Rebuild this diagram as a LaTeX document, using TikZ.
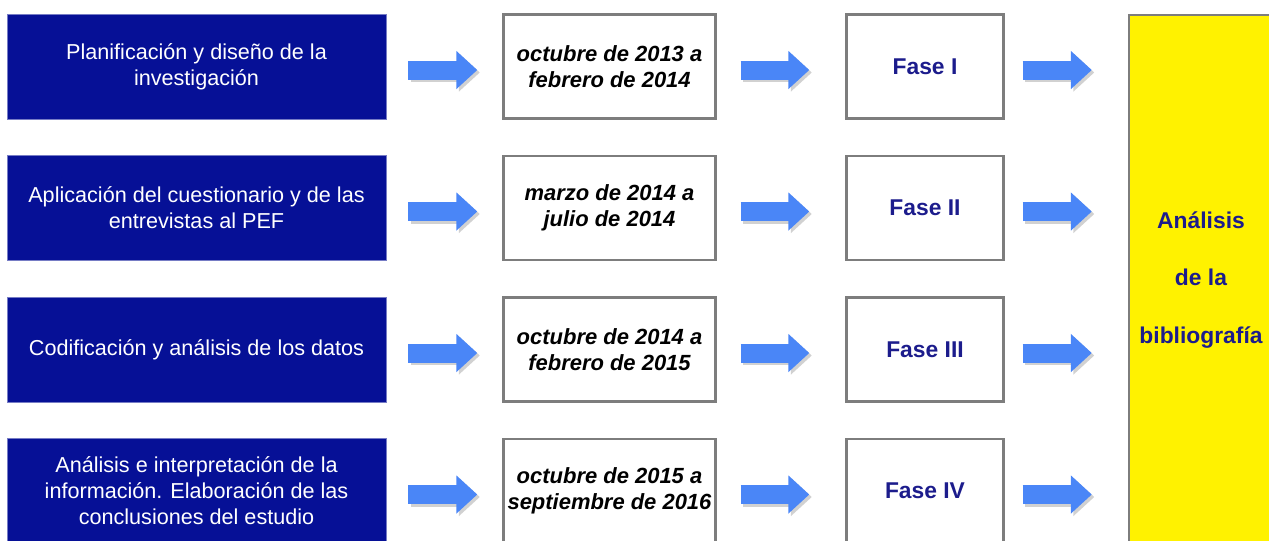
\documentclass[tikz,border=0pt]{standalone}
\usepackage{fontspec}
\setmainfont{Liberation Sans}
\usetikzlibrary{arrows.meta}
\definecolor{plancolor}{RGB}{6,16,150}
\definecolor{arrowblue}{RGB}{74,134,247}
\definecolor{fasecolor}{RGB}{28,28,140}
\definecolor{bordergray}{RGB}{125,125,125}
\begin{document}
\begin{tikzpicture} [
   x=0.02cm, y=-0.02cm,
   plan/.style={rectangle, fill=plancolor, draw=plancolor!55!white, line width=0.5pt,
      minimum width=7.58cm, minimum height=2.1cm, inner sep=0pt, align=center,
      text=white, font=\fontsize{12.3}{14.8}\selectfont},
   date/.style={rectangle, draw=bordergray, line width=1.4pt, minimum width=4.24cm,
      minimum height=2.08cm, inner sep=0pt, align=center,
      font=\fontsize{12.5}{14.8}\selectfont\bfseries\itshape},
   fase/.style={rectangle, draw=bordergray, line width=1.4pt, minimum width=3.14cm,
      minimum height=2.08cm, inner sep=0pt, text=fasecolor,
      font=\fontsize{13}{15}\selectfont\bfseries},
   biblio/.style={rectangle, fill=yellow, draw=bordergray, line width=1.4pt,
      minimum width=2.88cm, minimum height=10.6cm, inner sep=0pt, align=center,
      text=fasecolor, font=\fontsize{13}{32.6}\selectfont\bfseries},
   fat/.style={line width=0.38cm, draw=arrowblue, -{Triangle[length=0.42cm, width=0.74cm]}},
   fatshadow/.style={fat, draw=black!18, transform canvas={shift={(0.05cm,-0.05cm)}}}
]
   \useasboundingbox (0,0) rectangle (1269,541);
   \node (P1) [plan] at (196.5,66.5) {Planificación y diseño de la\\investigación};
   \node (P2) [plan] at (196.5,208) {Aplicación del cuestionario y de las\\entrevistas al PEF};
   \node (P3) [plan] at (196.5,349.5) {Codificación y análisis de los datos};
   \node (P4) [plan] at (196.5,491) {Análisis e interpretación de la\\información. Elaboración de las\\conclusiones del estudio};
   \node (D1) [date] at (609.5,66.5) {octubre de 2013 a\\febrero de 2014};
   \node (D2) [date] at (609.5,208) {marzo de 2014 a\\julio de 2014};
   \node (D3) [date] at (609.5,349.5) {octubre de 2014 a\\febrero de 2015};
   \node (D4) [date] at (609.5,491) {octubre de 2015 a\\septiembre de 2016};
   \node (F1) [fase] at (925,66.5) {Fase I};
   \node (F2) [fase] at (925,208) {Fase II};
   \node (F3) [fase] at (925,349.5) {Fase III};
   \node (F4) [fase] at (925,491) {Fase IV};
   \node (B) [biblio] at (1201,280) {Análisis\\de la\\bibliografía};
   \foreach \i in {1,...,4} {
      \foreach \s in {fatshadow, fat} {
         \draw [\s, shorten <=0.44cm, shorten >=0.5cm] ([yshift=-2pt]P\i.east) -- ([yshift=-2pt]D\i.west);
         \draw [\s, shorten <=0.48cm, shorten >=0.72cm] ([yshift=-2pt]D\i.east) -- ([yshift=-2pt]F\i.west);
         \draw [\s, shorten <=0.36cm, shorten >=0.72cm] ([yshift=-2pt]F\i.east) -- ([yshift=-2pt]F\i.east -| B.west);
      }
   }
\end{tikzpicture}
\end{document}
